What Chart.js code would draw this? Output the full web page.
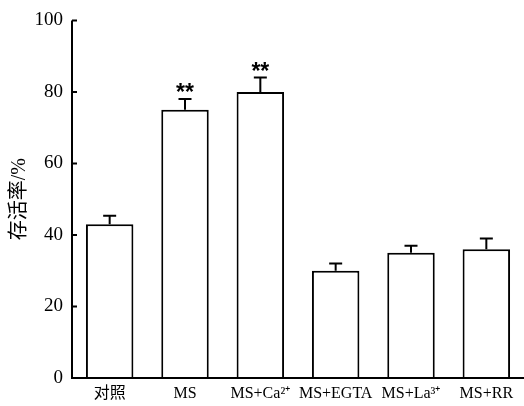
<!DOCTYPE html>
<html><head><meta charset="utf-8">
<script src="https://cdn.jsdelivr.net/npm/chart.js@4/dist/chart.umd.min.js"></script>
<style>html,body{margin:0;padding:0;background:#fff}#wrap{width:524px;height:406px}</style>
</head><body><div id="wrap"><canvas id="c" width="524" height="406"></canvas></div>
<script>
const categories = ['对照', 'MS', 'MS+Ca²⁺', 'MS+EGTA', 'MS+La³⁺', 'MS+RR'];
const survivalRate = [43, 75, 80, 30, 35, 36];
const errors = [2.4, 3, 4, 2, 2, 3];
const significance = ['', '**', '**', '', '', ''];
const yTicks = [0, 20, 40, 60, 80, 100];

const FONT = "'Liberation Serif', 'Noto Sans CJK SC', serif";

const extras = {
  id: 'extras',
  afterDatasetsDraw(chart) {
    const ctx = chart.ctx, y = chart.scales.y, x = chart.scales.x;
    const meta = chart.getDatasetMeta(0);
    ctx.save();
    ctx.strokeStyle = '#000'; ctx.lineWidth = 2;
    meta.data.forEach((bar, i) => {
      const top = y.getPixelForValue(survivalRate[i]);
      const et = y.getPixelForValue(survivalRate[i] + errors[i]);
      ctx.beginPath();
      ctx.moveTo(bar.x, top); ctx.lineTo(bar.x, et);
      ctx.moveTo(bar.x - 6.5, et); ctx.lineTo(bar.x + 6.5, et);
      ctx.stroke();
      if (significance[i]) {
        ctx.fillStyle = '#000';
        ctx.font = "bold 23px 'Liberation Sans', sans-serif";
        ctx.textAlign = 'center'; ctx.textBaseline = 'alphabetic';
        ctx.fillText(significance[i], bar.x, et + 1);
      }
    });
    // axes
    ctx.beginPath();
    ctx.moveTo(y.right, y.getPixelForValue(100)); ctx.lineTo(y.right, y.bottom + 1);
    ctx.moveTo(y.right - 1, x.top); ctx.lineTo(chart.width, x.top);
    yTicks.forEach(v => {
      const p = y.getPixelForValue(v);
      ctx.moveTo(y.right, p); ctx.lineTo(y.right + 5, p);
    });
    ctx.stroke();
    ctx.restore();
  }
};

new Chart(document.getElementById('c'), {
  type: 'bar',
  data: {
    labels: categories,
    datasets: [{
      data: survivalRate,
      backgroundColor: '#fff',
      borderColor: '#000',
      borderWidth: 2,
      borderSkipped: 'bottom',
      barPercentage: 0.63,
      categoryPercentage: 1
    }]
  },
  options: {
    responsive: false,
    animation: false,
    layout: { padding: { top: 7, right: 0, left: 0, bottom: 0 } },
    plugins: { legend: { display: false }, tooltip: { enabled: false } },
    scales: {
      x: {
        grid: { display: false, drawTicks: false },
        border: { display: false },
        ticks: { color: '#000', font: { family: FONT, size: 16 }, padding: 6, maxRotation: 0, autoSkip: false },
        afterFit(s) { s.height = 28; }
      },
      y: {
        min: 0, max: 100,
        afterBuildTicks(s) { s.ticks = yTicks.map(v => ({ value: v })); },
        grid: { display: false, drawTicks: false },
        border: { display: false },
        ticks: { color: '#000', font: { family: FONT, size: 19 }, padding: 9 },
        title: { display: true, text: '存活率/%', color: '#000', font: { family: FONT, size: 20 }, padding: { top: 8, bottom: 0 } },
        afterFit(s) { s.width = 72; }
      }
    }
  },
  plugins: [extras]
});
</script></body></html>
